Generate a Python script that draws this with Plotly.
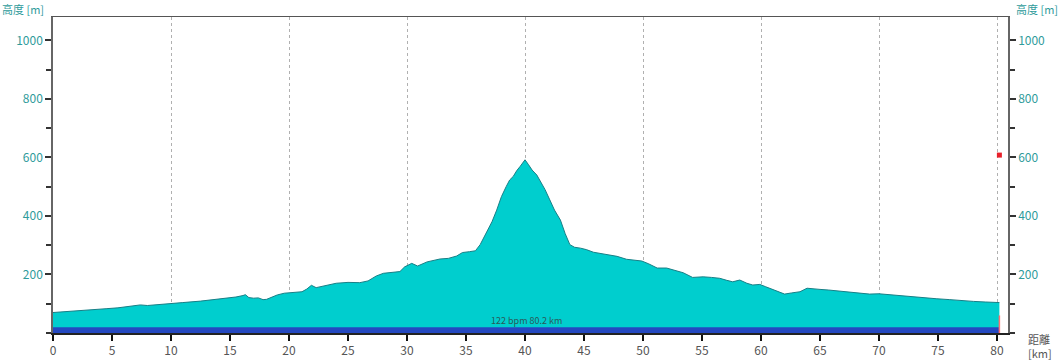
import plotly.graph_objects as go

# Elevation profile (distance km, altitude m)
distance_km = [0, 0.8, 1.5, 2.5, 3.5, 4.5, 5.5, 6.5, 7.4, 8.0, 9.0, 9.9, 11.0, 12.5, 13.5, 14.5,
               15.5, 16.1, 16.3, 16.6, 17.0, 17.4, 17.8, 18.1, 18.5, 19.0, 19.6, 20.1, 21.1, 21.5,
               21.9, 22.3, 22.8, 23.5, 24.0, 25.0, 26.0, 26.7, 27.4, 28.0, 29.0, 29.4, 29.8, 30.4,
               30.9, 31.3, 31.7, 32.8, 33.5, 34.2, 34.7, 35.3, 35.8, 36.2, 36.8, 37.2, 37.6, 38.0,
               38.4, 38.7, 39.0, 39.3, 39.6, 40.0, 40.3, 40.6, 41.0, 41.3, 41.7, 42.1, 42.5, 43.0,
               43.4, 43.8, 44.2, 44.7, 45.2, 45.8, 46.5, 47.2, 47.8, 48.6, 49.3, 49.9, 50.5, 51.2,
               52.0, 52.7, 53.4, 54.2, 55.1, 55.8, 56.5, 57.1, 57.6, 58.2, 58.8, 59.3, 59.9, 60.4,
               60.8, 61.5, 62.0, 62.6, 63.3, 63.9, 64.5, 65.0, 65.7, 66.4, 67.5, 68.5, 69.2, 70.0,
               71.0, 72.4, 73.5, 74.9, 76.0, 77.1, 78.0, 79.0, 79.8, 80.2]
altitude_m = [70, 72, 73, 76, 80, 83, 86, 90, 96, 94, 98, 101, 104, 109, 113, 118,
              123, 128, 131, 121, 119, 120, 114, 115, 122, 130, 136, 138, 141, 150,
              163, 155, 160, 166, 170, 173, 172, 178, 195, 204, 208, 210, 226, 238,
              229, 237, 243, 253, 255, 263, 275, 278, 281, 302, 352, 380, 420, 466,
              500, 523, 535, 555, 570, 592, 575, 557, 540, 520, 490, 455, 420, 386,
              340, 302, 293, 290, 285, 276, 272, 267, 262, 252, 249, 246, 236, 222,
              222, 214, 206, 190, 192, 190, 187, 180, 175, 181, 170, 164, 166, 158,
              152, 143, 133, 137, 141, 153, 150, 149, 147, 144, 140, 136, 133, 134,
              130, 126, 121, 117, 114, 110, 108, 106, 105, 104]

avg_hr_bpm = 122
total_km = 80.2
hr_band_m = [20, 20]
marker_alt_m = [608]
cursor_alt_m = [0, 60]

x_ticks = list(range(0, 81, 5))
y_ticks = [200, 400, 600, 800, 1000]
y_title = "高度 [m]"
x_title = "距離<br>[km]"

TEAL_TXT = "#2f9b9b"
FONT = "Noto Sans CJK JP"

fig = go.Figure()

fig.add_trace(go.Scatter(
    x=distance_km, y=altitude_m, mode="lines", fill="tozeroy",
    fillcolor="#00cece", line=dict(color="#187f86", width=1),
    hoverinfo="skip", showlegend=False))

fig.add_trace(go.Scatter(
    x=[distance_km[0], distance_km[-1]], y=hr_band_m, mode="lines", fill="tozeroy",
    fillcolor="#2448c0", line=dict(color="#2448c0", width=0),
    hoverinfo="skip", showlegend=False))

fig.add_trace(go.Scatter(
    x=[total_km, total_km], y=cursor_alt_m, mode="lines",
    line=dict(color="#ff7070", width=1.5), hoverinfo="skip", showlegend=False))

fig.add_trace(go.Scatter(
    x=[total_km], y=marker_alt_m, mode="markers",
    marker=dict(symbol="square", size=5, color="#e8202a"),
    hoverinfo="skip", showlegend=False))

# grid axis (dotted lines every 10 km) and right y-axis
fig.add_trace(go.Scatter(x=[distance_km[0]], y=[None], xaxis="x2", yaxis="y2",
                         mode="lines", hoverinfo="skip", showlegend=False))

fig.add_annotation(x=total_km / 2, y=hr_band_m[0], xref="x", yref="y",
                   text=f"{avg_hr_bpm} bpm {total_km} km", showarrow=False,
                   yanchor="bottom", yshift=-2,
                   font=dict(family=FONT, size=9, color="#2a5a5a"))

fig.add_annotation(x=0, y=1, xref="paper", yref="paper", xanchor="right", yanchor="bottom",
                   xshift=-7, yshift=-2, text=y_title, showarrow=False,
                   font=dict(family=FONT, size=11, color=TEAL_TXT))
fig.add_annotation(x=1, y=1, xref="paper", yref="paper", xanchor="left", yanchor="bottom",
                   xshift=6, yshift=-2, text=y_title, showarrow=False,
                   font=dict(family=FONT, size=11, color=TEAL_TXT))
fig.add_annotation(x=1, y=0, xref="paper", yref="paper", xanchor="left", yanchor="top",
                   xshift=18, yshift=4, text=x_title, showarrow=False, align="left",
                   font=dict(family=FONT, size=11, color="#555555"))

xr = [0, 80.93]
yr = [0, 1080]

fig.update_layout(
    width=1060, height=360,
    margin=dict(l=53, r=52, t=17, b=27),
    plot_bgcolor="white", paper_bgcolor="white",
    font=dict(family=FONT, size=12, color="#444444"),
    showlegend=False,
    xaxis=dict(range=xr, tickvals=x_ticks, ticks="outside", ticklen=6, tickwidth=1.5,
               tickcolor="#111111", showgrid=False, zeroline=False, showline=True,
               linecolor="#222222", linewidth=1.5, automargin=False,
               tickfont=dict(family=FONT, size=12, color="#555555"), mirror=False),
    xaxis2=dict(range=xr, overlaying="x", dtick=10, tick0=0, showticklabels=False,
                ticks="", showgrid=True, gridcolor="#b0b0b0", griddash="dot", gridwidth=1,
                zeroline=False, showline=True, linecolor="#555555", side="top",
                automargin=False),
    yaxis=dict(range=yr, tickvals=y_ticks, ticks="outside", ticklen=6, tickwidth=1.5,
               tickcolor="#333333", showgrid=False, zeroline=False, showline=True,
               linecolor="#666666", linewidth=1.5, automargin=False,
               tickfont=dict(family=FONT, size=12, color=TEAL_TXT),
               minor=dict(dtick=100, tick0=0, ticks="outside", ticklen=5, tickcolor="#333333",
                          showgrid=False)),
    yaxis2=dict(range=yr, overlaying="y", side="right", tickvals=y_ticks, ticks="outside",
                ticklen=6, tickwidth=1.5, tickcolor="#333333", showgrid=False, zeroline=False,
                showline=True, linecolor="#666666", linewidth=1.5, automargin=False,
                tickfont=dict(family=FONT, size=12, color=TEAL_TXT),
                minor=dict(dtick=100, tick0=0, ticks="outside", ticklen=5, tickcolor="#333333",
                           showgrid=False)),
)

fig.write_html("out.html", config={"displayModeBar": False},
               post_script="document.body.style.margin='0';document.body.style.overflow='hidden';")
